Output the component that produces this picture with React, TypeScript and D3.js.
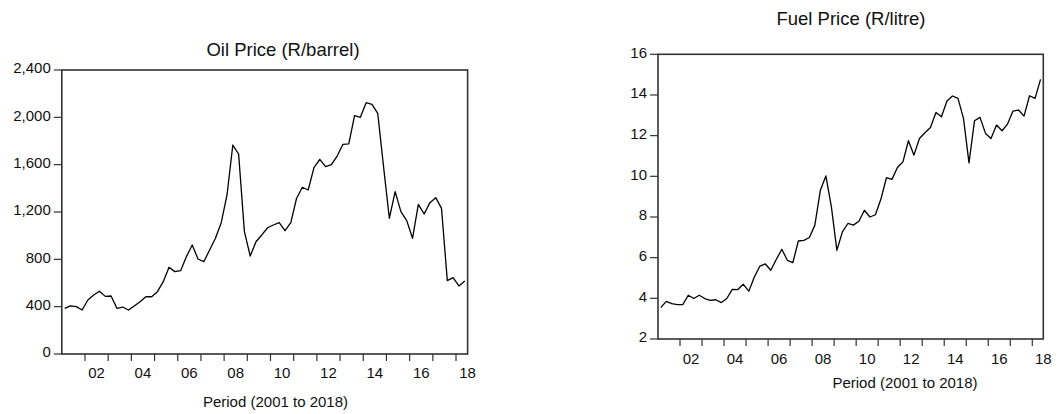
import React from "react";
import * as d3 from "d3";

// Quarterly observations 2001Q1 .. 2018Q2
const oilPrice: number[] = [
  386, 406, 400, 372, 456, 499, 530, 487, 490, 386, 397, 372,
  406, 442, 484, 484, 527, 611, 733, 696, 704, 823, 921, 803,
  780, 879, 978, 1110, 1344, 1766, 1690, 1034, 828, 949, 1006, 1067,
  1090, 1110, 1042, 1110, 1316, 1409, 1386, 1575, 1645, 1583, 1600, 1673,
  1772, 1775, 2014, 2000, 2124, 2110, 2034, 1583, 1147, 1372, 1203, 1127,
  978, 1265, 1183, 1279, 1321, 1231, 620, 645, 575, 617,
];

const fuelPrice: number[] = [
  3.54, 3.85, 3.74, 3.69, 3.69, 4.15, 3.99, 4.15, 3.99, 3.9, 3.93, 3.79,
  3.99, 4.44, 4.43, 4.69, 4.35, 5.05, 5.58, 5.69, 5.38, 5.92, 6.41, 5.87,
  5.76, 6.82, 6.85, 6.99, 7.6, 9.32, 10.02, 8.5, 6.36, 7.27, 7.68, 7.6,
  7.79, 8.33, 8.0, 8.11, 8.88, 9.93, 9.85, 10.43, 10.71, 11.75, 11.04, 11.86,
  12.14, 12.4, 13.14, 12.93, 13.7, 13.95, 13.83, 12.85, 10.66, 12.73, 12.9, 12.11,
  11.86, 12.52, 12.24, 12.57, 13.21, 13.26, 12.96, 13.96, 13.83, 14.77,
];

const startYear = 2001;
const endYear = 2018.5;
const yearTicks: number[] = d3.range(2002, 2019);
const yearLabels: number[] = [2002, 2004, 2006, 2008, 2010, 2012, 2014, 2016, 2018];
const oilTicks: number[] = [0, 400, 800, 1200, 1600, 2000, 2400];
const fuelTicks: number[] = [2, 4, 6, 8, 10, 12, 14, 16];

const FONT = "'Liberation Sans', Arial, sans-serif";
const AXIS = "#333";

type PanelProps = {
  data: number[];
  x0: number; x1: number; y0: number; y1: number;
  yDomain: [number, number];
  yTicks: number[];
  yFormat: (v: number) => string;
  title: string;
  titleX: number; titleY: number;
  xLabelY: number;
  axisTitleX: number; axisTitleY: number;
};

function Panel(p: PanelProps) {
  const x = d3.scaleLinear().domain([startYear, endYear]).range([p.x0, p.x1]);
  const y = d3.scaleLinear().domain(p.yDomain).range([p.y1, p.y0]);
  const line = d3
    .line<number>()
    .x((_, i) => x(startYear + (i + 0.5) / 4))
    .y((d) => y(d));
  return (
    <g>
      <text x={p.titleX} y={p.titleY} textAnchor="middle" fontFamily={FONT} fontSize={18.5} fill="#111">
        {p.title}
      </text>
      <path d={line(p.data) || ""} fill="none" stroke="#000" strokeWidth={1.3} strokeLinejoin="round" />
      <rect x={p.x0} y={p.y0} width={p.x1 - p.x0} height={p.y1 - p.y0} fill="none" stroke={AXIS} strokeWidth={1.6} />
      {p.yTicks.map((t) => (
        <g key={"y" + t}>
          <line x1={p.x0 - 8} x2={p.x0} y1={y(t)} y2={y(t)} stroke={AXIS} strokeWidth={1.2} />
          <text x={p.x0 - 11} y={y(t) - 2} dy="0.35em" textAnchor="end" fontFamily={FONT} fontSize={15} fill="#111">
            {p.yFormat(t)}
          </text>
        </g>
      ))}
      {yearTicks.map((t) => (
        <line key={"x" + t} x1={x(t)} x2={x(t)} y1={p.y1} y2={p.y1 + 7} stroke={AXIS} strokeWidth={1.2} />
      ))}
      {yearLabels.map((t) => (
        <text key={"l" + t} x={x(t + 0.5)} y={p.xLabelY} textAnchor="middle" fontFamily={FONT} fontSize={15} fill="#111">
          {String(t % 100).padStart(2, "0")}
        </text>
      ))}
      <text x={p.axisTitleX} y={p.axisTitleY} textAnchor="middle" fontFamily={FONT} fontSize={15} fill="#111">
        Period (2001 to 2018)
      </text>
    </g>
  );
}

export default function App() {
  return (
    <svg width={1062} height={414} style={{ position: "absolute", left: 0, top: 0, background: "#fff" }}>
      <rect x={0} y={0} width={1062} height={414} fill="#fff" />
      <Panel
        data={oilPrice}
        x0={61.8} x1={467.6} y0={70} y1={354}
        yDomain={[0, 2400]}
        yTicks={oilTicks}
        yFormat={d3.format(",")}
        title="Oil Price (R/barrel)"
        titleX={283} titleY={56}
        xLabelY={377.5}
        axisTitleX={275.5} axisTitleY={407}
      />
      <Panel
        data={fuelPrice}
        x0={658} x1={1043.3} y0={54.3} y1={339}
        yDomain={[2, 16]}
        yTicks={fuelTicks}
        yFormat={(v) => String(v)}
        title="Fuel Price (R/litre)"
        titleX={851} titleY={25}
        xLabelY={363.5}
        axisTitleX={905} axisTitleY={388}
      />
    </svg>
  );
}
